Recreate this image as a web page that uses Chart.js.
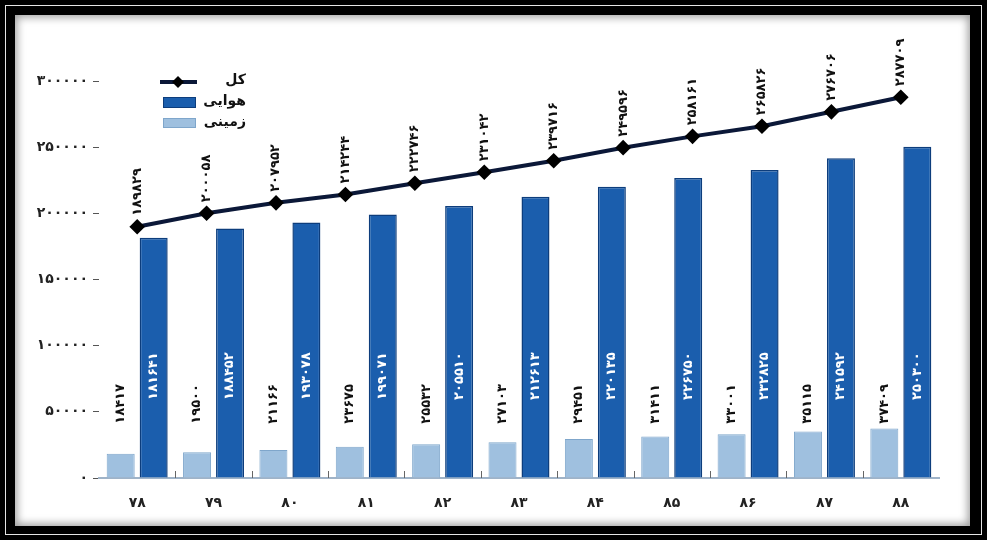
<!DOCTYPE html>
<html lang="fa">
<head>
<meta charset="utf-8">
<title>مسافران هوایی و زمینی</title>
<script src="https://cdn.jsdelivr.net/npm/chart.js@4.4.1/dist/chart.umd.min.js"></script>
<style>
  html, body { margin: 0; padding: 0; background: #000; width: 987px; height: 540px; overflow: hidden; }
  .outer { position: absolute; left: 5px; top: 5px; width: 975px; height: 528px; border: 1px solid #e6e6e6; }
  .panel { position: absolute; left: 15px; top: 15px; width: 955px; height: 511px; background: #fff;
           box-shadow: inset 0 0 8px 2px #9a9a9a; }
  canvas { position: absolute; left: 0; top: 0; }
</style>
</head>
<body>
<div class="outer"></div>
<div class="panel"></div>
<canvas id="chart" width="987" height="540"></canvas>
<script>
// سال‌ها (۱۳۷۸ تا ۱۳۸۸)
const years = [78, 79, 80, 81, 82, 83, 84, 85, 86, 87, 88];
// زمینی
const groundValues = [18417, 19500, 21166, 23675, 25532, 27103, 29451, 31411, 33001, 35115, 37409];
// هوایی
const airValues = [181641, 188452, 193078, 199071, 205510, 212613, 220135, 226750, 232825, 241592, 250300];
// کل (دوازده نقطه روی خط)
const totalValues = [189829, 200058, 207952, 214244, 222746, 231042, 239716, 249596, 258161, 265826, 276706, 287709];

const FONT = '"DejaVu Sans", sans-serif';
const faDigits = '۰۱۲۳۴۵۶۷۸۹';
function toFa(n) {
    return String(n).replace(/\d/g, d => faDigits[d]);
}

// فاصله هر ستون از وسط دسته (بر حسب یک دسته)
const GROUP_SHIFT = 0.216;

const colors = {
    air: '#1b5ead',
    airBorder: '#0d3d7c',
    ground: '#9fc0df',
    groundBorder: '#7fa6cb',
    line: '#0b1838'
};

// برچسب‌های عمودی روی ستون‌ها و نقاط خط
const valueLabels = {
    id: 'valueLabels',
    afterDatasetsDraw(chart) {
        const ctx = chart.ctx;
        const y = chart.scales.y;
        ctx.save();
        ctx.font = 'bold 13px ' + FONT;
        ctx.textBaseline = 'middle';
        ctx.textAlign = 'left';

        function vertical(text, x, yy, color) {
            ctx.save();
            ctx.translate(x, yy);
            ctx.rotate(-Math.PI / 2);
            ctx.fillStyle = color;
            ctx.fillText(text, 0, 0);
            ctx.restore();
        }

        chart.getDatasetMeta(0).data.forEach((bar, i) => {
            vertical(toFa(groundValues[i]), bar.x, y.getPixelForValue(41000), '#111');
        });
        chart.getDatasetMeta(1).data.forEach((bar, i) => {
            vertical(toFa(airValues[i]), bar.x, y.getPixelForValue(59000), '#fff');
        });
        chart.getDatasetMeta(2).data.forEach((pt, i) => {
            vertical(toFa(totalValues[i]), pt.x, pt.y - 11, '#111');
        });
        ctx.restore();
    }
};

// خط‌های کوچک میان دسته‌ها روی محور افقی
const boundaryTicks = {
    id: 'boundaryTicks',
    afterDatasetsDraw(chart) {
        const ctx = chart.ctx;
        const x = chart.scales.x;
        const base = chart.chartArea.bottom;
        ctx.save();
        ctx.strokeStyle = '#666';
        ctx.lineWidth = 1;
        for (let i = 1; i < years.length; i++) {
            const bx = Math.round((x.getPixelForValue(i - 1) + x.getPixelForValue(i)) / 2) + 0.5;
            ctx.beginPath();
            ctx.moveTo(bx, base - 7);
            ctx.lineTo(bx, base);
            ctx.stroke();
        }
        ctx.restore();
    }
};

// راهنما در گوشه بالا
const legendBox = {
    id: 'legendBox',
    afterDraw(chart) {
        const ctx = chart.ctx;
        ctx.save();
        // کل
        ctx.strokeStyle = colors.line;
        ctx.lineWidth = 4;
        ctx.beginPath();
        ctx.moveTo(160, 82);
        ctx.lineTo(197, 82);
        ctx.stroke();
        ctx.fillStyle = '#000';
        ctx.beginPath();
        ctx.moveTo(178, 76); ctx.lineTo(184, 82); ctx.lineTo(178, 88); ctx.lineTo(172, 82);
        ctx.closePath();
        ctx.fill();
        // هوایی
        ctx.fillStyle = colors.air;
        ctx.fillRect(163, 97, 33, 11);
        ctx.strokeStyle = colors.airBorder;
        ctx.lineWidth = 1;
        ctx.strokeRect(163.5, 97.5, 32, 10);
        // زمینی
        ctx.fillStyle = colors.ground;
        ctx.fillRect(163, 118, 33, 10);
        ctx.strokeStyle = colors.groundBorder;
        ctx.strokeRect(163.5, 118.5, 32, 9);

        ctx.fillStyle = '#111';
        ctx.font = 'bold 14px ' + FONT;
        ctx.textAlign = 'right';
        ctx.textBaseline = 'middle';
        ctx.fillText('کل', 246, 80);
        ctx.fillText('هوایی', 246, 101);
        ctx.fillText('زمینی', 246, 122);
        ctx.restore();
    }
};

const barStyle = { grouped: false, categoryPercentage: 1, barPercentage: 0.85, maxBarThickness: 28, xAxisID: 'xb' };

new Chart(document.getElementById('chart'), {
    type: 'bar',
    data: {
        labels: years.map(toFa),
        datasets: [
            Object.assign({
                label: 'زمینی',
                data: groundValues.map((v, i) => ({ x: i - GROUP_SHIFT, y: v })),
                backgroundColor: colors.ground,
                borderColor: colors.groundBorder,
                borderWidth: 1,
                order: 1
            }, barStyle),
            Object.assign({
                label: 'هوایی',
                data: airValues.map((v, i) => ({ x: i + GROUP_SHIFT, y: v })),
                backgroundColor: colors.air,
                borderColor: colors.airBorder,
                borderWidth: 1.5,
                order: 2
            }, barStyle),
            {
                type: 'line',
                label: 'کل',
                data: totalValues.map((v, i) => ({ x: i, y: v })),
                xAxisID: 'x2',
                borderColor: colors.line,
                borderWidth: 4,
                pointStyle: 'rectRot',
                pointRadius: 5,
                pointBackgroundColor: '#000',
                pointBorderColor: '#000',
                tension: 0,
                order: 0
            }
        ]
    },
    options: {
        responsive: false,
        animation: false,
        layout: { padding: { left: 20, top: 81, right: 48, bottom: 22 } },
        plugins: {
            legend: { display: false },
            tooltip: { enabled: false }
        },
        scales: {
            x: {
                type: 'category',
                offset: true,
                grid: { display: false, drawTicks: false },
                border: { display: true, color: '#9fb3c8', width: 2 },
                ticks: { color: '#222', font: { family: FONT, size: 14, weight: 'bold' }, padding: 17 },
                afterFit: s => { s.height = 40; }
            },
            // محور پنهان برای جای ستون‌ها
            xb: {
                type: 'linear',
                display: false,
                offset: false,
                min: -0.5,
                max: years.length - 0.5
            },
            // محور پنهان برای دوازده نقطه خط کل
            x2: {
                type: 'linear',
                display: false,
                offset: false,
                min: -0.55,
                max: totalValues.length - 0.45
            },
            y: {
                min: 0,
                max: 300000,
                ticks: {
                    stepSize: 50000,
                    color: '#222',
                    padding: 5,
                    font: { family: FONT, size: 14, weight: 'bold' },
                    callback: v => toFa(v)
                },
                grid: { drawOnChartArea: false, drawTicks: true, tickLength: 6, color: '#555' },
                border: { display: false },
                afterFit: s => { s.width = 79; }
            }
        }
    },
    plugins: [boundaryTicks, valueLabels, legendBox]
});
</script>
</body>
</html>
